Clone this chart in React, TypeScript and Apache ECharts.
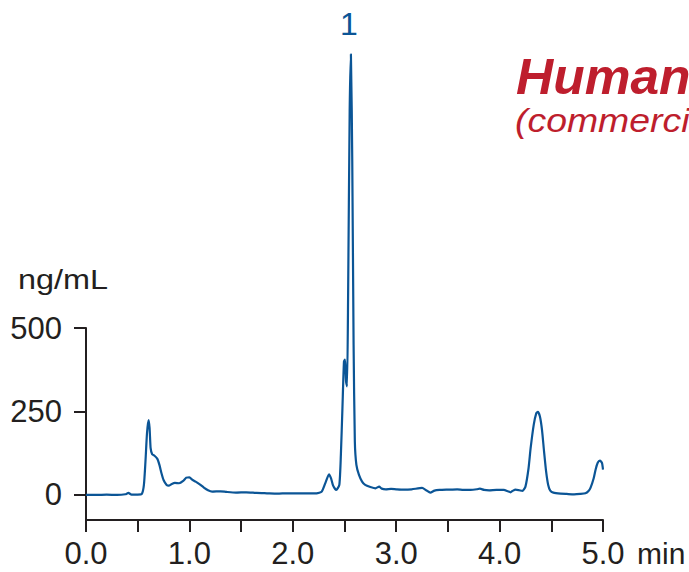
import React, { useEffect, useRef } from "react";
import * as echarts from "echarts";

const times = [
  0.0, 0.1, 0.2, 0.3, 0.38, 0.41, 0.44, 0.5, 0.54, 0.56, 0.575, 0.59, 0.605, 0.615, 0.625, 0.64, 0.66, 0.69,
  0.71, 0.73, 0.75, 0.78, 0.8, 0.83, 0.86, 0.9, 0.94, 0.97, 1.0, 1.03, 1.06, 1.1, 1.14, 1.18, 1.22, 1.3, 1.36,
  1.45, 1.55, 1.65, 1.75, 1.85, 1.95, 2.05, 2.15, 2.23, 2.28, 2.32, 2.35, 2.37, 2.39, 2.42, 2.45, 2.465, 2.48,
  2.495, 2.505, 2.515, 2.525, 2.535, 2.55, 2.562, 2.575, 2.588, 2.6, 2.615, 2.64, 2.67, 2.7, 2.75, 2.8, 2.835,
  2.86, 2.9, 2.95, 3.0, 3.07, 3.15, 3.25, 3.29, 3.33, 3.37, 3.42, 3.5, 3.59, 3.65, 3.72, 3.78, 3.81, 3.85, 3.9,
  3.97, 4.04, 4.08, 4.105, 4.13, 4.155, 4.19, 4.22, 4.25, 4.28, 4.3, 4.33, 4.355, 4.37, 4.39, 4.41, 4.43, 4.45,
  4.47, 4.49, 4.52, 4.59, 4.65, 4.72, 4.78, 4.83, 4.86, 4.88, 4.91, 4.93, 4.95, 4.97, 4.99, 5.0,
];
const values = [
  0, 0, 1, 0, 2, 6, 1, 1, 3, 30, 100, 185, 224, 200, 140, 122, 118, 108,
  90, 65, 45, 30, 28, 33, 36, 35, 42, 52, 53, 45, 40, 32, 22, 14, 10, 11, 9,
  7, 8, 6, 5, 4, 5, 5, 5, 5, 10, 40, 62, 50, 28, 15, 30, 120, 260,
  400, 405, 340, 325, 600, 1150, 1320, 1000, 450, 160, 90, 60, 40, 30, 24, 20, 25,
  19, 17, 18, 17, 16, 17, 21, 14, 7, 13, 15, 16, 17, 15, 15, 17, 19, 15, 14,
  15, 15, 11, 8, 13, 16, 14, 12, 25, 80, 140, 210, 245, 249, 235, 195, 130, 70,
  30, 13, 7, 4, 3, 2, 3, 5, 12, 22, 50, 78, 97, 103, 96, 76,
];
const xTicks = [0, 0.5, 1, 1.5, 2, 2.5, 3, 3.5, 4, 4.5, 5];
const xLabels = [0, 1, 2, 3, 4, 5];
const yTicks = [0, 250, 500];

const FONT = '"Liberation Sans", Arial, Helvetica, sans-serif';
const AXIS = "#231f20";
const BLUE = "#0b5596";
const RED = "#be1e2d";

export default function App() {
  const ref = useRef<HTMLDivElement>(null);
  useEffect(() => {
    if (!ref.current) return;
    const chart = echarts.init(ref.current, null, { renderer: "svg" });
    const data = times.map((t, i) => [t, values[i]]);
    chart.setOption({
      animation: false,
      grid: { left: 86, top: 328, width: 517, height: 192, containLabel: false },
      xAxis: {
        type: "value",
        min: 0,
        max: 5,
        splitLine: { show: false },
        axisLine: { show: true, onZero: false, lineStyle: { color: AXIS, width: 2 } },
        axisTick: { show: true, length: 12, customValues: xTicks, lineStyle: { color: AXIS, width: 2 } },
        axisLabel: {
          customValues: xLabels,
          formatter: (v: number) => v.toFixed(1),
          fontSize: 31,
          fontFamily: FONT,
          color: AXIS,
          margin: 18,
        },
      },
      yAxis: {
        type: "value",
        min: -75,
        max: 500,
        splitLine: { show: false },
        axisLine: { show: true, onZero: false, lineStyle: { color: AXIS, width: 2 } },
        axisTick: { show: true, length: 12, customValues: yTicks, lineStyle: { color: AXIS, width: 2 } },
        axisLabel: {
          customValues: yTicks,
          fontSize: 31,
          fontFamily: FONT,
          color: AXIS,
          margin: 24,
          padding: [10, 0, 0, 0],
        },
      },
      series: [
        {
          type: "line",
          data,
          showSymbol: false,
          clip: false,
          smooth: 0.2,
          lineStyle: { color: BLUE, width: 2.2 },
        },
      ],
      graphic: [
        { type: "text", x: 18, y: 266, scaleX: 1.2, style: { text: "ng/mL", font: `27px ${FONT}`, fill: AXIS } },
        { type: "text", x: 637, y: 538, style: { text: "min", font: `30px ${FONT}`, fill: AXIS } },
        { type: "text", x: 340, y: 8, style: { text: "1", font: `32px ${FONT}`, fill: BLUE } },
        {
          type: "text",
          x: 516,
          y: 52,
          scaleX: 1.03,
          style: { text: "Human", font: `italic bold 50px ${FONT}`, fill: RED },
        },
        {
          type: "text",
          x: 515,
          y: 104,
          scaleX: 1.1,
          style: { text: "(commercial)", font: `italic 34px ${FONT}`, fill: RED },
        },
      ],
    });
    return () => chart.dispose();
  }, []);
  return <div ref={ref} style={{ position: "absolute", left: 0, top: 0, width: 689, height: 572 }} />;
}
